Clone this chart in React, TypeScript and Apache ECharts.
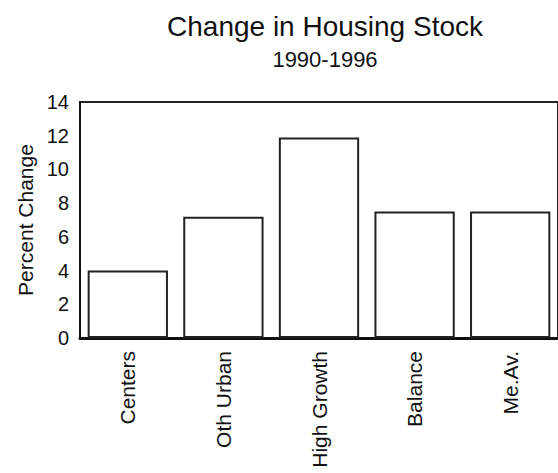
import React, { useEffect, useRef } from "react";
import * as echarts from "echarts";

const categories = ["Centers", "Oth Urban", "High Growth", "Balance", "Me.Av."];
const percentChange = [4.0, 7.2, 11.9, 7.5, 7.5];
const titleText = "Change in Housing Stock";
const subtitleText = "1990-1996";
const yAxisName = "Percent Change";

export default function App() {
  const ref = useRef<HTMLDivElement>(null);
  useEffect(() => {
    if (!ref.current) return;
    const chart = echarts.init(ref.current, null, { renderer: "svg" });
    const font = "Liberation Sans, Arial, sans-serif";
    chart.setOption({
      animation: false,
      backgroundColor: "#fff",
      title: [
        {
          text: titleText,
          left: 325,
          top: 12,
          textAlign: "center",
          padding: 0,
          textStyle: { fontFamily: font, fontSize: 28, fontWeight: "normal", color: "#111" },
        },
        {
          text: subtitleText,
          left: 325,
          top: 48,
          textAlign: "center",
          padding: 0,
          textStyle: { fontFamily: font, fontSize: 22, fontWeight: "normal", color: "#111" },
        },
      ],
      grid: {
        left: 80,
        right: -11,
        top: 102,
        bottom: 135,
        show: true,
        borderColor: "#222",
        borderWidth: 2,
        backgroundColor: "transparent",
        containLabel: false,
      },
      xAxis: {
        type: "category",
        data: categories,
        axisLine: { show: true, lineStyle: { color: "#111", width: 3 } },
        axisTick: { show: false },
        axisLabel: {
          rotate: 90,
          margin: 13,
          interval: 0,
          fontFamily: font,
          fontSize: 21,
          color: "#111",
        },
      },
      yAxis: {
        type: "value",
        min: 0,
        max: 14,
        interval: 2,
        name: yAxisName,
        nameLocation: "middle",
        nameGap: 42,
        nameTextStyle: { fontFamily: font, fontSize: 21, color: "#111" },
        axisLine: { show: true, lineStyle: { color: "#111", width: 2 } },
        axisTick: { show: false },
        splitLine: { show: false },
        axisLabel: { fontFamily: font, fontSize: 20, color: "#111", margin: 11 },
      },
      series: [
        {
          type: "bar",
          data: percentChange,
          barCategoryGap: "16%",
          itemStyle: { color: "#fff", borderColor: "#222", borderWidth: 2 },
        },
      ],
    });
    return () => chart.dispose();
  }, []);
  return <div ref={ref} style={{ width: 558, height: 473, position: "absolute", left: 0, top: 0 }} />;
}
